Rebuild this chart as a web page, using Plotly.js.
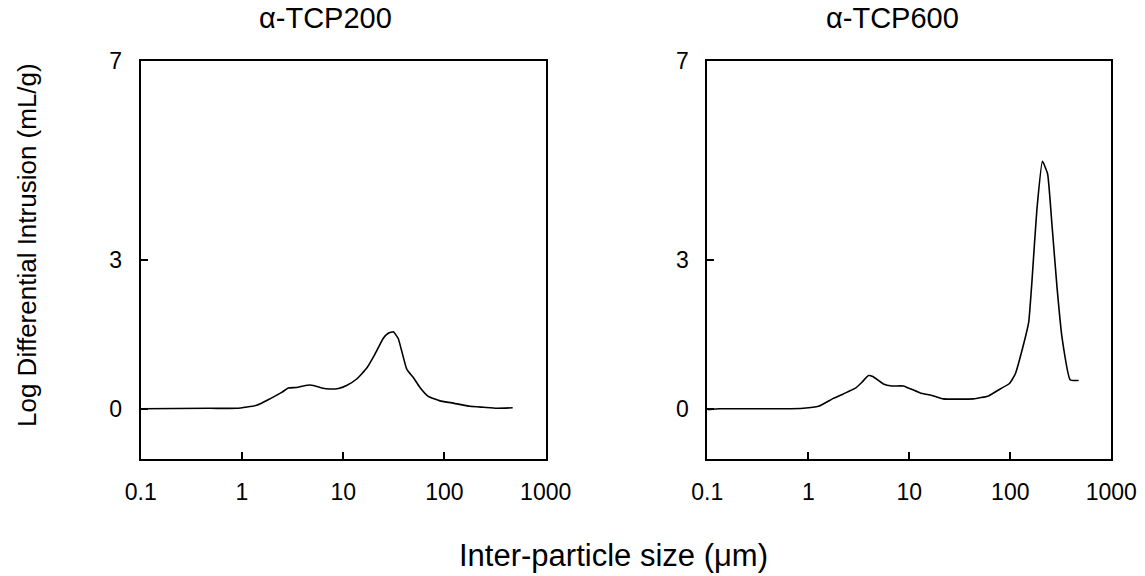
<!DOCTYPE html>
<html>
<head>
<meta charset="utf-8">
<script src="https://cdn.plot.ly/plotly-3.0.1.min.js"></script>
<style>html,body{margin:0;padding:0;background:#fff;}#chart{width:1145px;height:576px;}</style>
</head>
<body>
<div id="chart"></div>
<script>
// alpha-TCP200
const size200 = [0.1, 0.48, 0.89, 1.4, 1.89, 2.47, 2.87, 3.47, 4.03, 4.7, 5.07, 6.13, 7.41, 8.96, 10.8, 13.6, 17.1, 20.6, 24.9, 27.9, 31.3, 35.0, 42.4, 49.3, 57.3, 69.2, 90.3, 118, 179, 242, 328, 472];
const val200  = [0.0, 0.01, 0.01, 0.07, 0.2, 0.33, 0.42, 0.43, 0.46, 0.48, 0.47, 0.42, 0.40, 0.41, 0.47, 0.60, 0.82, 1.10, 1.42, 1.52, 1.55, 1.41, 0.80, 0.63, 0.43, 0.25, 0.16, 0.12, 0.05, 0.03, 0.01, 0.02];
// alpha-TCP600
const size600 = [0.102, 0.133, 0.565, 0.89, 1.26, 1.77, 2.22, 2.90, 3.38, 3.94, 4.35, 5.54, 6.70, 8.74, 12.8, 16.7, 21.7, 43.1, 60.8, 79.4, 98.2, 112, 135, 152, 164, 183, 208, 234, 258, 290, 325, 393, 475];
const val600  = [-0.02, 0.0, 0.0, 0.01, 0.05, 0.21, 0.30, 0.41, 0.53, 0.67, 0.65, 0.50, 0.46, 0.46, 0.32, 0.27, 0.20, 0.20, 0.26, 0.40, 0.51, 0.70, 1.29, 1.74, 2.58, 3.99, 4.98, 4.73, 3.73, 2.45, 1.44, 0.58, 0.57];

const panelTitles = ["\u03b1-TCP200", "\u03b1-TCP600"];
const xTickVals = [0.1, 1, 10, 100, 1000];
const xTickText = ["0.1", "1", "10", "100", "1000"];
const yTickVals = [0, 3, 7];
const yTickText = ["0", "3", "7"];
const xTitle = "Inter-particle size (\u03bcm)";
const yTitle = "Log Differential Intrusion (mL/g)";

const FONT = "Liberation Sans, Arial, sans-serif";
const lineStyle = {color: "#000", width: 1.6, shape: "spline", smoothing: 0.4};

const traces = [
  {x: size200, y: val200, type: "scatter", mode: "lines", line: lineStyle, xaxis: "x", yaxis: "y", hoverinfo: "skip"},
  {x: size600, y: val600, type: "scatter", mode: "lines", line: lineStyle, xaxis: "x2", yaxis: "y2", hoverinfo: "skip"}
];

function xa(domain, anchor) {
  return {
    type: "log", domain: domain, anchor: anchor, range: [-1, 3],
    tickvals: xTickVals, ticktext: xTickText, ticks: "inside", ticklen: 7, tickwidth: 2, tickcolor: "#000",
    showline: true, mirror: true, linecolor: "#000", linewidth: 2, showgrid: false, zeroline: false,
    tickfont: {family: FONT, size: 23, color: "#000"}, ticklabelstandoff: 12, fixedrange: true
  };
}
function ya(domain, anchor) {
  return {
    domain: domain, anchor: anchor, range: [-1, 7],
    tickvals: yTickVals, ticktext: yTickText, ticks: "inside", ticklen: 7, tickwidth: 2, tickcolor: "#000",
    showline: true, mirror: true, linecolor: "#000", linewidth: 2, showgrid: false, zeroline: false,
    tickfont: {family: FONT, size: 23, color: "#000"}, ticklabelstandoff: 12, fixedrange: true
  };
}

const yDom = [1 - 458.5/576, 1 - 61/576];
const layout = {
  width: 1145, height: 576,
  margin: {l: 0, r: 0, t: 0, b: 0},
  paper_bgcolor: "#fff", plot_bgcolor: "#fff",
  showlegend: false,
  font: {family: FONT, color: "#000"},
  xaxis: xa([140.7/1145, 545.7/1145], "y"),
  yaxis: ya(yDom, "x"),
  xaxis2: xa([707.3/1145, 1111.3/1145], "y2"),
  yaxis2: ya(yDom, "x2"),
  annotations: [
    {text: panelTitles[0], xref: "paper", yref: "paper", x: 325/1145, y: 1 - 18/576, xanchor: "center", yanchor: "middle", showarrow: false, font: {family: FONT, size: 29, color: "#000"}},
    {text: panelTitles[1], xref: "paper", yref: "paper", x: 892/1145, y: 1 - 18/576, xanchor: "center", yanchor: "middle", showarrow: false, font: {family: FONT, size: 29, color: "#000"}},
    {text: xTitle, xref: "paper", yref: "paper", x: 613/1145, y: 1 - 555/576, xanchor: "center", yanchor: "middle", showarrow: false, font: {family: FONT, size: 31, color: "#000"}},
    {text: yTitle, xref: "paper", yref: "paper", x: 27/1145, y: 1 - 245/576, xanchor: "center", yanchor: "middle", textangle: -90, showarrow: false, font: {family: FONT, size: 26, color: "#000"}}
  ]
};

Plotly.newPlot("chart", traces, layout, {staticPlot: true, displayModeBar: false});
</script>
</body>
</html>
